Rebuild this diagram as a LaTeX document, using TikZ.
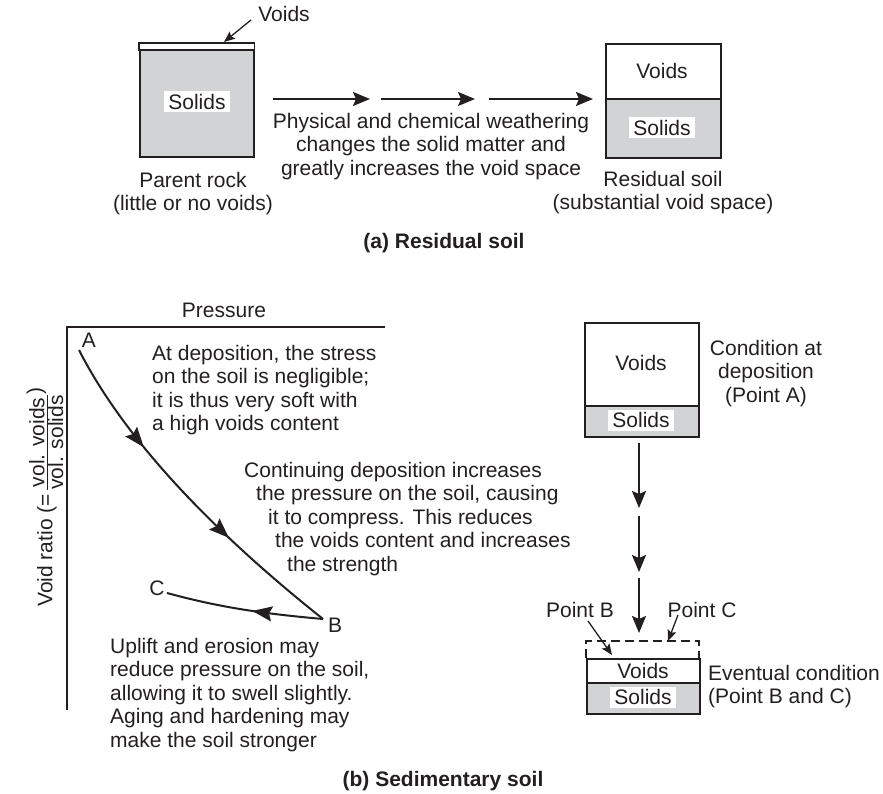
\documentclass[tikz,border=0pt]{standalone}
\usepackage{fontspec}
\setmainfont{Liberation Sans}
\usetikzlibrary{arrows.meta,decorations.markings,calc}
\definecolor{soilgray}{RGB}{209,211,212}
\definecolor{ink}{RGB}{35,31,32}
\begin{document}
\begin{tikzpicture}[x=1pt,y=-1pt,
  font=\fontsize{21}{23.6}\selectfont,
  txt/.style={inner sep=0pt, text=ink},
  lbl/.style={fill=white, inner xsep=4pt, inner ysep=2.5pt, text height=15.5pt, text depth=0.5pt, text=ink},
  boxline/.style={draw=ink, line width=1.6pt},
  bigarr/.style={draw=ink, line width=1.8pt, -{Stealth[length=17pt,width=14pt,inset=3pt]}},
  smallarr/.style={draw=ink, line width=1.3pt, -{Stealth[length=11pt,width=9pt,inset=2pt]}},
  curveline/.style={draw=ink, line width=2pt},
]
\useasboundingbox (0,0) rectangle (883,794);

% ---------------- (a) Residual soil ----------------
% parent rock box
\node[boxline, fill=soilgray, minimum width=114pt, minimum height=113pt, inner sep=0pt, anchor=north west] (rock) at (139,43) {};
\draw[boxline, fill=white] (rock.north west) rectangle ($(rock.north east)+(0,7)$);
\node[lbl] (rocksolids) at (197,102) {Solids};
\node[txt, anchor=base] (rockvoids) at (284,22) {Voids};
\coordinate (rvS) at (251,20);
\coordinate (rvE) at (224,42);
\draw[smallarr] (rvS) -- (rvE);
\node[txt, anchor=north, align=center] (rocktxt) at (193,171.7) {Parent rock\\(little or no voids)};

% weathering arrows
\coordinate (w1s) at (273,99); \coordinate (w1e) at (370,99);
\coordinate (w2s) at (381,99); \coordinate (w2e) at (475,99);
\coordinate (w3s) at (489,99); \coordinate (w3e) at (593,99);
\draw[bigarr] (w1s) -- (w1e);
\draw[bigarr] (w2s) -- (w2e);
\draw[bigarr] (w3s) -- (w3e);
\node[txt, anchor=north, align=center] (weath) at (431,112.7) {Physical and chemical weathering\\changes the solid matter and\\greatly increases the void space};

% residual soil box
\fill[soilgray] (605,99) rectangle (720,157);
\node[boxline, minimum width=115pt, minimum height=114pt, inner sep=0pt, anchor=north west] (res) at (605,43) {};
\draw[boxline] (res.west |- 0,99) -- (res.east |- 0,99);
\node[txt] (resvoids) at (662,71) {Voids};
\node[lbl] (ressolids) at (662,128) {Solids};
\node[txt, anchor=north, align=center] (restxt) at (663,170.7) {Residual soil\\(substantial void space)};

\node[txt, anchor=base, font=\fontsize{21}{23.6}\selectfont\bfseries] (titlea) at (444,249) {(a) Residual soil};

% ---------------- (b) Sedimentary soil ----------------
\coordinate (org) at (67,327);
\coordinate (xend) at (385,327);
\coordinate (yend) at (67,710);
\draw[draw=ink, line width=1.3pt] (xend) -- (org) -- (yend);
\node[txt, anchor=base] (press) at (224,317) {Pressure};
\node[txt, rotate=90] (ylab) at (45,497) {Void ratio (=\,$\frac{\mbox{vol. voids}}{\mbox{vol. solids}}$\raisebox{0.5em}{)}};

\node[txt, anchor=base] (labA) at (89,347) {A};
\node[txt, anchor=base] (labB) at (335,632) {B};
\node[txt, anchor=base] (labC) at (157,595) {C};
\coordinate (pA) at (79,350);
\coordinate (pB) at (323,619);
\coordinate (pC) at (167,593);
\draw[curveline, postaction={decorate}, decoration={markings,
   mark=at position 0.32 with {\arrow{Stealth[length=20pt,width=15pt,inset=3pt]}},
   mark=at position 0.66 with {\arrow{Stealth[length=20pt,width=15pt,inset=3pt]}}}]
   (pA) .. controls (130,450) and (230,545) .. (pB);
\draw[curveline, postaction={decorate}, decoration={markings,
   mark=at position 0.45 with {\arrow{Stealth[length=20pt,width=15pt,inset=3pt]}}}]
   (pB) .. controls (255,613) and (215,606) .. (pC);

\node[txt, anchor=north west, align=left] (dep) at (152,344.7) {At deposition, the stress\\on the soil is negligible;\\it is thus very soft with\\a high voids content};
\node[txt, anchor=north west, align=left] (cont) at (244,461.7) {Continuing deposition increases\\\hspace*{12pt}the pressure on the soil, causing\\\hspace*{24pt}it to compress. This reduces\\\hspace*{31pt}the voids content and increases\\\hspace*{43pt}the strength};
\node[txt, anchor=north west, align=left] (upl) at (110,637.7) {Uplift and erosion may\\reduce pressure on the soil,\\allowing it to swell slightly.\\Aging and hardening may\\make the soil stronger};

% right: condition at deposition
\fill[soilgray] (584,406) rectangle (698,436);
\node[boxline, minimum width=114pt, minimum height=114pt, inner sep=0pt, anchor=north west] (depbox) at (584,322) {};
\draw[boxline] (depbox.west |- 0,406) -- (depbox.east |- 0,406);
\node[txt] (depvoids) at (641,363) {Voids};
\node[lbl] (depsolids) at (641,420) {Solids};
\node[txt, anchor=north, align=center] (deptxt) at (766,339.7) {Condition at\\deposition\\(Point A)};

\coordinate (v1s) at (639,443); \coordinate (v1e) at (639,508);
\coordinate (v2s) at (639,516); \coordinate (v2e) at (639,572);
\coordinate (v3s) at (639,578); \coordinate (v3e) at (639,633);
\draw[bigarr] (v1s) -- (v1e);
\draw[bigarr] (v2s) -- (v2e);
\draw[bigarr] (v3s) -- (v3e);

% eventual condition
\draw[draw=ink, line width=1.3pt, dash pattern=on 9pt off 5pt] (586,658) -- (586,641) -- (699,641) -- (699,658);
\fill[soilgray] (586,683) rectangle (699,713);
\node[boxline, minimum width=113pt, minimum height=55pt, inner sep=0pt, anchor=north west] (evbox) at (586,658) {};
\draw[boxline] (evbox.west |- 0,683) -- (evbox.east |- 0,683);
\node[txt] (evvoids) at (643,671) {Voids};
\node[lbl] (evsolids) at (643,697) {Solids};
\node[txt, anchor=north west, align=left] (evtxt) at (708,664.7) {Eventual condition\\(Point B and C)};

\node[txt, anchor=base] (ptB) at (580,617) {Point B};
\node[txt, anchor=base] (ptC) at (702,617) {Point C};
\coordinate (pbS) at (588,621); \coordinate (pbE) at (612,655);
\coordinate (pcS) at (678,615); \coordinate (pcE) at (668,641);
\draw[smallarr] (pbS) -- (pbE);
\draw[smallarr] (pcS) -- (pcE);

\node[txt, anchor=base, font=\fontsize{21}{23.6}\selectfont\bfseries] (titleb) at (443,786) {(b) Sedimentary soil};
\end{tikzpicture}
\end{document}
